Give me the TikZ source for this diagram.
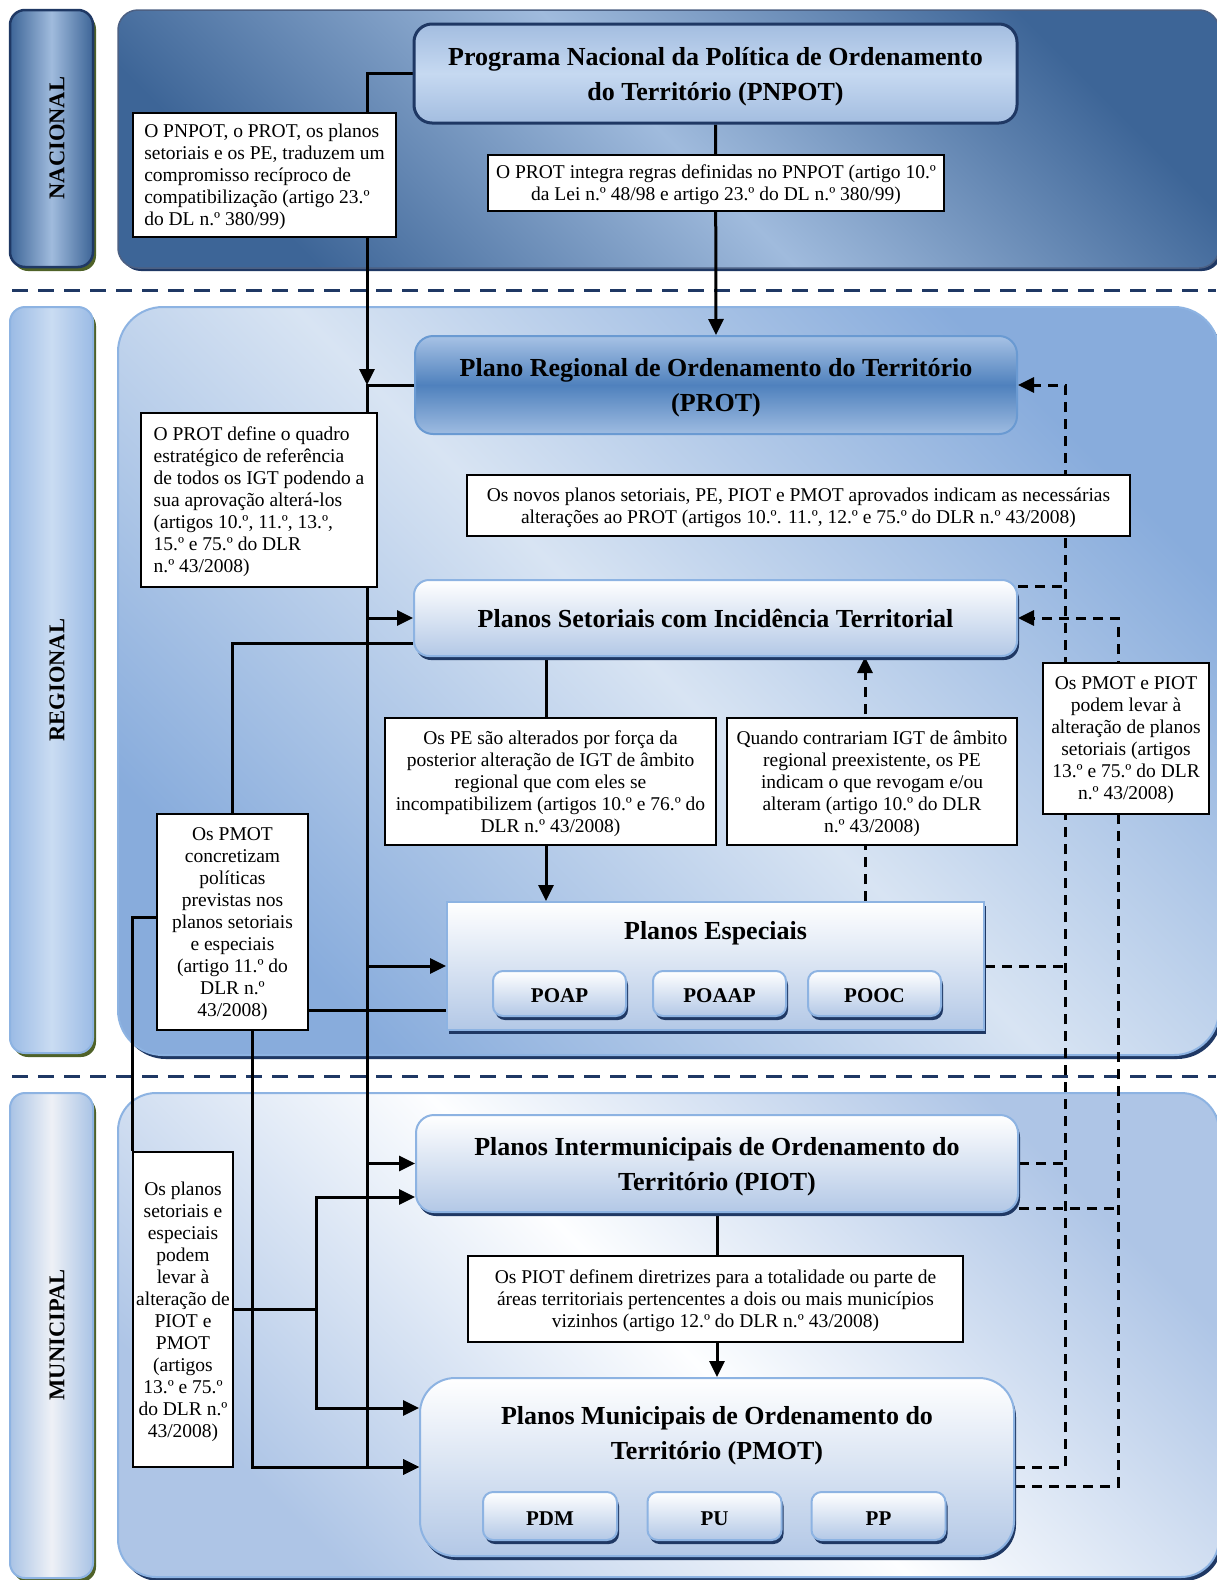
\documentclass[tikz,border=0pt]{standalone}
\usepackage{fontspec}
\setmainfont{Liberation Serif}
\usetikzlibrary{arrows.meta,shadows}
\pgfdeclarelayer{back}
\pgfdeclarelayer{conn}
\pgfsetlayers{back,conn,main}
\definecolor{navy}{HTML}{1F3864}
\definecolor{natdark}{HTML}{3D6597}
\definecolor{natlight}{HTML}{A0BBDD}
\definecolor{regdark}{HTML}{88ACDC}
\definecolor{reglight}{HTML}{D8E4F3}
\definecolor{mundark}{HTML}{AEC5E6}
\definecolor{munlight}{HTML}{FDFEFF}
\definecolor{olivesh}{HTML}{4F6228}
\definecolor{lbord}{HTML}{8DB3E2}
\definecolor{lbot}{HTML}{B3C8E6}
\definecolor{protmid}{HTML}{4F81BD}
\definecolor{prottop}{HTML}{A7C2E5}
\definecolor{protbord}{HTML}{6A9AD2}
\definecolor{pnmid}{HTML}{C6D9F1}
\definecolor{pnedge}{HTML}{A3BDE0}
\definecolor{regtabedge}{HTML}{9BBBE5}
\definecolor{regtabmid}{HTML}{CADCF2}
\definecolor{muntabedge}{HTML}{A9C3E5}
\definecolor{muntabmid}{HTML}{EEF1F6}

\tikzset{
  conn/.style={line width=3pt, draw=black},
  dconn/.style={line width=3pt, draw=black, dash pattern=on 10pt off 7pt},
  tip/.style={-{Triangle[length=16pt,width=15pt]}},
  note/.style={draw=black, line width=2pt, fill=white, inner sep=0pt, text depth=0pt, font=\fontsize{19.5}{22}\selectfont, align=center},
  notel/.style={note, align=left},
  title/.style={font=\fontsize{26}{35}\selectfont\bfseries, align=center, inner sep=0pt, text depth=0pt},
  lightbox/.style={draw=lbord, line width=2pt, top color=white, bottom color=lbot, inner sep=0pt,
     drop shadow={shadow xshift=2pt, shadow yshift=-4pt, fill=navy, opacity=1}},
  button/.style={lightbox, rounded corners=10pt, text height=18pt, text depth=0pt, font=\fontsize{21}{24}\selectfont\bfseries},
  tablabel/.style={rotate=90, font=\fontsize{22.5}{26}\selectfont\bfseries, inner sep=0pt},
}

\begin{document}
\begin{tikzpicture}[x=1pt,y=-1pt]
\useasboundingbox (0,0) rectangle (1216,1580);

\begin{pgfonlayer}{back}
\fill[white] (0,0) rectangle (1216,1580);
% panels
\fill[navy, rounded corners=20pt] (121,14) rectangle (1222,271);
\shade[top color=natdark, bottom color=natdark, middle color=natlight, shading angle=-45, rounded corners=20pt, draw=navy!80, line width=1.5pt] (118,10) rectangle (1219,268);
\fill[navy, rounded corners=45pt] (121,311) rectangle (1222,1059);
\shade[top color=regdark, bottom color=regdark, middle color=reglight, shading angle=-45, rounded corners=45pt, draw=lbord, line width=2pt] (118,307) rectangle (1219,1055);
\fill[navy, rounded corners=38pt] (121,1097) rectangle (1222,1581);
\shade[top color=mundark, bottom color=mundark, middle color=munlight, shading angle=-45, rounded corners=38pt, draw=lbord, line width=2pt] (118,1093) rectangle (1219,1577);
% tabs
\fill[olivesh, rounded corners=15pt] (13,14) rectangle (96,271);
\shade[left color=natdark, right color=natdark, middle color=natlight, rounded corners=15pt, draw=navy, line width=2.5pt] (10,10) rectangle (93,267);
\fill[olivesh, rounded corners=15pt] (13,311) rectangle (96,1057);
\shade[left color=regtabedge, right color=regtabedge, middle color=regtabmid, rounded corners=15pt, draw=lbord, line width=2pt] (10,307) rectangle (93,1053);
\fill[olivesh, rounded corners=15pt] (13,1097) rectangle (96,1582);
\shade[left color=muntabedge, right color=muntabedge, middle color=muntabmid, rounded corners=15pt, draw=lbord, line width=2pt] (10,1093) rectangle (93,1578);
% separators
\draw[navy, line width=3pt, dash pattern=on 16pt off 10pt] (12,290) -- (1216,290);
\draw[navy, line width=3pt, dash pattern=on 16pt off 10pt] (12,1076) -- (1216,1076);
\end{pgfonlayer}

% tab labels
\node[tablabel] (tnac) at (57,138) {NACIONAL};
\node[tablabel] (treg) at (57,680) {REGIONAL};
\node[tablabel] (tmun) at (57,1335) {MUNICIPAL};

% plan boxes
\node[title, draw=navy, line width=3pt, rounded corners=18pt, top color=pnedge, bottom color=pnedge, middle color=pnmid, minimum width=603pt, minimum height=99pt] (pnpot) at (715.5,73.5) {Programa Nacional da Política de Ordenamento\\do Território (PNPOT)};
\node[title, draw=protbord, line width=2pt, rounded corners=18pt, top color=prottop, bottom color=prottop!90!protmid, middle color=protmid, minimum width=602pt, minimum height=98pt] (prot) at (716,385) {Plano Regional de Ordenamento do Território\\(PROT)};
\node[lightbox, title, rounded corners=15pt, minimum width=603pt, minimum height=76pt] (ps) at (715.5,618) {Planos Setoriais com Incidência Territorial};
\node[lightbox, minimum width=537pt, minimum height=128pt] (pe) at (715.5,966) {};
\node[title] (pet) at (715.5,930) {Planos Especiais};
\node[button, minimum width=133pt, minimum height=45pt] (poap) at (559.5,993.5) {POAP};
\node[button, minimum width=133pt, minimum height=45pt] (poaap) at (719.5,993.5) {POAAP};
\node[button, minimum width=133pt, minimum height=45pt] (pooc) at (874.5,993.5) {POOC};
\node[lightbox, title, rounded corners=18pt, minimum width=602pt, minimum height=97pt] (piot) at (717,1163.5) {Planos Intermunicipais de Ordenamento do\\Território (PIOT)};
\node[lightbox, rounded corners=35pt, minimum width=594pt, minimum height=178pt] (pmot) at (717,1467) {};
\node[title] (pmott) at (717,1433) {Planos Municipais de Ordenamento do\\Território (PMOT)};
\node[button, minimum width=134pt, minimum height=48pt] (pdm) at (550,1516) {PDM};
\node[button, minimum width=134pt, minimum height=48pt] (pu) at (714.5,1516) {PU};
\node[button, minimum width=134pt, minimum height=48pt] (pp) at (878.5,1516) {PP};

% notes
\node[notel, minimum width=263pt, minimum height=124pt] (n1) at (264.5,175) {O PNPOT, o PROT, os planos\\setoriais e os PE, traduzem um\\compromisso recíproco de\\compatibilização (artigo 23.º\\do DL n.º 380/99)};
\node[note, minimum width=456pt, minimum height=56pt] (n2) at (716,183) {O PROT integra regras definidas no PNPOT (artigo 10.º\\da Lei n.º 48/98 e artigo 23.º do DL n.º 380/99)};
\node[notel, minimum width=236pt, minimum height=174pt] (n3) at (259,500) {O PROT define o quadro\\estratégico de referência\\de todos os IGT podendo a\\sua aprovação alterá-los\\(artigos 10.º, 11.º, 13.º,\\15.º e 75.º do DLR\\n.º 43/2008)};
\node[note, minimum width=663pt, minimum height=61pt] (n4) at (798.5,505.5) {Os novos planos setoriais, PE, PIOT e PMOT aprovados indicam as necessárias\\alterações ao PROT (artigos 10.º. 11.º, 12.º e 75.º do DLR n.º 43/2008)};
\node[note, minimum width=331pt, minimum height=127pt] (n5) at (550.5,781.5) {Os PE são alterados por força da\\posterior alteração de IGT de âmbito\\regional que com eles se\\incompatibilizem (artigos 10.º e 76.º do\\DLR n.º 43/2008)};
\node[note, minimum width=290pt, minimum height=127pt] (n6) at (872,781.5) {Quando contrariam IGT de âmbito\\regional preexistente, os PE\\indicam o que revogam e/ou\\alteram (artigo 10.º do DLR\\n.º 43/2008)};
\node[note, minimum width=166pt, minimum height=151pt] (n7) at (1126,738.5) {Os PMOT e PIOT\\podem levar à\\alteração de planos\\setoriais (artigos\\13.º e 75.º do DLR\\n.º 43/2008)};
\node[note, minimum width=151pt, minimum height=216pt] (n8) at (232.5,922) {Os PMOT\\concretizam\\políticas\\previstas nos\\planos setoriais\\e especiais\\(artigo 11.º do\\DLR n.º\\43/2008)};
\node[note, minimum width=100pt, minimum height=315pt] (n9) at (183,1309.5) {Os planos\\setoriais e\\especiais\\podem\\levar à\\alteração de\\PIOT e\\PMOT\\(artigos\\13.º e 75.º\\do DLR n.º\\43/2008)};
\node[note, minimum width=495pt, minimum height=86pt] (n10) at (715.5,1299) {Os PIOT definem diretrizes para a totalidade ou parte de\\áreas territoriais pertencentes a dois ou mais municípios\\vizinhos (artigo 12.º do DLR n.º 43/2008)};

\begin{pgfonlayer}{conn}
\coordinate (busL) at (367,0);
\coordinate (b2) at (1065,0);
\coordinate (b3) at (1118,0);
\coordinate (x9) at (546,0);
\coordinate (x865) at (865,0);
% solid
\draw[conn,tip] (pnpot.west) -| (busL |- prot.west);
\draw[conn,tip] (prot.west) -| (busL |- pmot.west) -- (pmot.west);
\draw[conn,tip] (busL |- ps.west) -- (ps.west);
\draw[conn,tip] (busL |- pe.west) -- (pe.west);
\draw[conn,tip] (busL |- piot.west) -- (piot.west);
\draw[conn,tip] (pnpot.south) -- (prot.north);
\coordinate (c4) at ([yshift=-25pt]ps.west);
\draw[conn] (c4) -| (n8.north);
\coordinate (c5) at ([yshift=-88pt]n8.east);
\draw[conn] (c5) -- (c5 -| pe.west);
\coordinate (c6) at ([yshift=5pt]n8.west);
\draw[conn] (c6) -| (n9.north west);
\coordinate (c7) at ([xshift=20pt]n8.south);
\draw[conn,tip] (c7) |- (pmot.west);
\coordinate (j8) at ([xshift=82pt]n9.east);
\coordinate (piotin) at ([yshift=-33.5pt]piot.west);
\coordinate (pmotin) at ([yshift=59pt]pmot.west);
\draw[conn,tip] (n9.east) -- (j8) |- (piotin);
\draw[conn,tip] (j8) |- (pmotin);
\draw[conn,tip] (ps.south -| x9) -- (pe.north -| x9);
\draw[conn,tip] (piot.south) -- (pmot.north);
% dashed
\draw[dconn,tip] (pe.north -| x865) -- (ps.south -| x865);
\draw[dconn,tip] (pmot.east) -| (b2 |- prot.east) -- (prot.east);
\coordinate (d2ps) at ([yshift=32pt]ps.east);
\draw[dconn] (d2ps) -- (d2ps -| b2);
\draw[dconn] (pe.east) -- (pe.east -| b2);
\draw[dconn] (piot.east) -- (piot.east -| b2);
\coordinate (d3s) at ([yshift=-19pt]pmot.east);
\draw[dconn,tip] (d3s) -| (b3 |- ps.east) -- (ps.east);
\coordinate (d3pi) at ([yshift=-44.5pt]piot.east);
\draw[dconn] (d3pi) -- (d3pi -| b3);
\end{pgfonlayer}
\end{tikzpicture}
\end{document}
